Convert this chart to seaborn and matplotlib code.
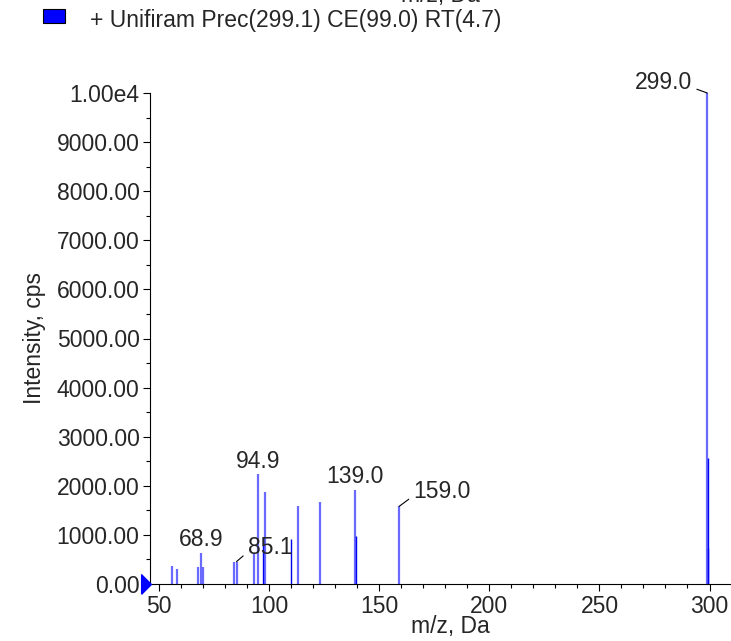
import numpy as np
import matplotlib
matplotlib.use("Agg")
import matplotlib.pyplot as plt
from matplotlib.patches import Rectangle
from matplotlib.ticker import MultipleLocator
import seaborn as sns

# peak list
mz_light = [56.0, 58.0, 67.8, 68.9, 69.8, 84.0, 85.1, 93.1, 94.9, 97.9, 112.9, 122.9, 139.0, 159.0, 299.0]
int_light = [374, 307, 342, 640, 342, 456, 456, 640, 2243, 1875, 1595, 1677, 1922, 1581, 10000]
mz_dark = [97.0, 110.0, 139.3, 299.3, 299.5]
int_dark = [957, 920, 975, 2570, 740]

labels = ["68.9", "85.1", "94.9", "139.0", "159.0", "299.0"]
label_mz = [68.9, 85.1, 94.9, 139.0, 159.0, 299.0]
label_int = [640, 456, 2243, 1922, 1581, 10000]

yticks = [0, 1000, 2000, 3000, 4000, 5000, 6000, 7000, 8000, 9000, 10000]
ytick_labels = ["0.00", "1000.00", "2000.00", "3000.00", "4000.00", "5000.00",
                "6000.00", "7000.00", "8000.00", "9000.00", "1.00e4"]
xticks = [50, 100, 150, 200, 250, 300]

title = "+ Unifiram Prec(299.1) CE(99.0) RT(4.7)"

sns.set_style("ticks")
plt.rcParams['font.family'] = ['Liberation Sans', 'DejaVu Sans']
FS = 16.5

fig = plt.figure(figsize=(7.31, 6.41), dpi=100)
ax = fig.add_axes([150 / 731, 1 - 584 / 641, 600 / 731, (584 - 93) / 641])

ax.vlines(mz_light, 0, int_light, color="#6a6aff", lw=1.6)
ax.vlines(mz_dark, 0, int_dark, color="#0000f0", lw=1.0)

ax.set_xlim(45.8, 318.4)
ax.set_ylim(0, 10000)
ax.set_xticks(xticks)
ax.xaxis.set_minor_locator(MultipleLocator(10))
ax.set_yticks(yticks)
ax.set_yticklabels(ytick_labels)
ax.yaxis.set_minor_locator(MultipleLocator(500))
ax.tick_params(which="major", length=5, width=0.8, labelsize=FS, direction="out", color="black")
ax.tick_params(which="minor", length=3, width=0.8, direction="out", color="black")
ax.tick_params(axis="x", which="major", pad=3)
ax.tick_params(axis="y", which="major", pad=2.5)
for s in ["top", "right"]:
    ax.spines[s].set_visible(False)
for s in ["left", "bottom"]:
    ax.spines[s].set_color("black")
    ax.spines[s].set_linewidth(0.8)

ax.set_xlabel("m/z, Da", fontsize=FS, labelpad=-2)
ax.set_ylabel("Intensity, cps", fontsize=FS, labelpad=8)

# peak labels: (dx, dy) in pixels, alignment, leader line
offsets = {
    "68.9": ((0, 13), "center", False),
    "94.9": ((0, 12), "center", False),
    "139.0": ((0, 13), "center", False),
    "85.1": ((11, 14), "left", True),
    "159.0": ((14, 15), "left", True),
    "299.0": ((-15, 10), "right", True),
}
for lab, x, y in zip(labels, label_mz, label_int):
    (dx, dy), ha, lead = offsets[lab]
    kw = {}
    if lead:
        rel = (0.0, 0.3) if ha == "left" else (1.0, 0.3)
        kw["arrowprops"] = dict(arrowstyle="-", color="black", lw=0.8,
                                shrinkA=1, shrinkB=0, relpos=rel)
    ax.annotate(lab, (x, y), xytext=(dx, dy), textcoords="offset pixels",
                ha=ha, va="center", fontsize=FS, annotation_clip=False, **kw)

# origin marker
tri = [(-0.5, -1), (0.5, 0), (-0.5, 1), (-0.5, -1)]
ax.plot([-0.0075], [0], marker=tri, ms=14, color="#0000ff", mec="#0000ff", clip_on=False,
        transform=ax.get_yaxis_transform(), zorder=5)

# legend entry and the cut-off label of the panel above
fig.patches.append(Rectangle((43 / 731, 1 - 23 / 641), 22 / 731, 14 / 641,
                             facecolor="#0000ff", edgecolor="black", lw=0.8,
                             transform=fig.transFigure))
fig.text(90 / 731, 1 - 21 / 641, title, fontsize=FS, va="center", ha="left")
fig.text(440 / 731, 1 - 2 / 641, "m/z, Da", fontsize=FS, va="baseline", ha="center")

fig.savefig("out.png", dpi=100)
